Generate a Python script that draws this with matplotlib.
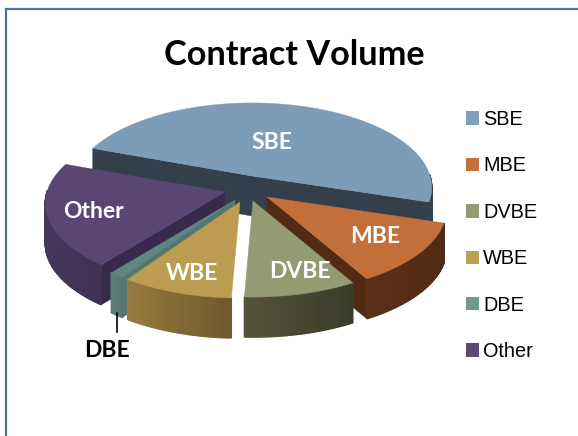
import numpy as np
import matplotlib
matplotlib.use("Agg")
import matplotlib.pyplot as plt
from matplotlib.patches import Patch, Polygon, Rectangle
from matplotlib.colors import to_rgb

# --- Data (share of contract volume) ---
CATEGORIES = ["SBE", "MBE", "DVBE", "WBE", "DBE", "Other"]
VALUES = [49.2, 11.9, 8.9, 8.8, 1.2, 20.0]

# --- Colours ---
LEGEND_COLORS = ["#7f9fbb", "#c4703c", "#959a72", "#bd9f52", "#6e9a90", "#5d4978"]
TOP_COLORS = ["#7d9cb7", "#c26f3a", "#949a72", "#bc9c50", "#5f8680", "#5a4673"]
WALL_LIGHT = ["#33404c", "#5a3018", "#555339", "#977c3f", "#5b7f78", "#4a3c66"]
WALL_DARK = ["#33404c", "#4e2915", "#393b29", "#6f592d", "#567670", "#3f3254"]
RADIAL_COLORS = ["#33404c", "#522b15", "#393b29", "#a8893f", "#567670", "#382a4c"]

# --- Layout (pixels, the axes run in image coordinates) ---
START_ANGLE = 200.4
RADIUS = 178
SQUASH = 83
PERSPECTIVE = 0.136
DEPTH = 40
APEX_X = [252, 267, 253, 240, 235, 225]
APEX_Y = [176, 197, 201, 202, 200, 192]
# back slices first so the front ones paint over them
DRAW_ORDER = [0, 5, 1, 4, 3, 2]
LABEL_POS = {"SBE": (272, 142), "MBE": (375, 236), "DVBE": (300, 271),
             "WBE": (192, 273), "Other": (94, 211)}


def project(apex, angle):
    """Rim point of a slice on screen, angle in degrees, clockwise on screen."""
    t = np.radians(angle)
    u, v = np.cos(t), np.sin(t)
    s = 1 / (1 - PERSPECTIVE * v)
    return np.column_stack([apex[0] + RADIUS * u * s, apex[1] + SQUASH * v * s])


def mix(c1, c2, t):
    a, b = np.array(to_rgb(c1)), np.array(to_rgb(c2))
    return tuple(a * (1 - t) + b * t)


def draw_slice(ax, i, a0, a1):
    apex = np.array([APEX_X[i], APEX_Y[i]], dtype=float)
    angles = np.linspace(a0, a1, max(int(a1 - a0) * 2, 6))
    rim = project(apex, angles)
    down = np.array([0, DEPTH])

    # radial walls, only the ones that face the viewer
    for edge, normal in ((rim[0], a0 - 90), (rim[-1], a1 + 90)):
        if np.sin(np.radians(normal)) > 0.1:
            wall = [apex, edge, edge + down, apex + down]
            ax.add_patch(Polygon(wall, closed=True, fc=RADIAL_COLORS[i],
                                 ec=RADIAL_COLORS[i], lw=0.3))

    # outer wall in small quads so the shade can run along the arc
    for j in range(len(rim) - 1):
        mid = np.radians((angles[j] + angles[j + 1]) / 2)
        if np.sin(mid) < -0.02:
            continue
        col = mix(WALL_DARK[i], WALL_LIGHT[i], j / max(len(rim) - 2, 1))
        quad = [rim[j], rim[j + 1], rim[j + 1] + down, rim[j] + down]
        ax.add_patch(Polygon(quad, closed=True, fc=col, ec=col, lw=1.0))

    top = np.vstack([apex, rim])
    ax.add_patch(Polygon(top, closed=True, fc=TOP_COLORS[i], ec=TOP_COLORS[i], lw=0.3))


fig = plt.figure(figsize=(5.78, 4.36), dpi=100)
ax = fig.add_axes([0, 0, 1, 1])
ax.set_xlim(0, 578)
ax.set_ylim(436, 0)
ax.axis("off")

# chart frame, runs off the right and bottom of the image
ax.add_patch(Rectangle((5.5, 9.5), 600, 460, fc="white", ec="#4f7398", lw=1.6))

shares = np.array(VALUES) / sum(VALUES) * 360
edges = START_ANGLE + np.concatenate([[0], np.cumsum(shares)])
for i in DRAW_ORDER:
    draw_slice(ax, i, edges[i], edges[i + 1])

ax.text(294, 55, "Contract Volume", ha="center", va="center",
        family="Lato", weight="bold", fontsize=24.7, color="black")

for name, (x, y) in LABEL_POS.items():
    ax.text(x, y, name, ha="center", va="center", family="Lato",
            weight="bold", fontsize=16.5, color="white")

# DBE is too thin for an inside label
ax.plot([117, 117], [313, 332], color="black", lw=1.2)
ax.text(107, 350, "DBE", ha="center", va="center", family="Lato",
        weight="bold", fontsize=16.5, color="black")

handles = [Patch(fc=c, ec="none", label=n) for c, n in zip(LEGEND_COLORS, CATEGORIES)]
ax.legend(handles=handles, loc="upper left", bbox_to_anchor=(466 / 578, 1 - 110 / 436),
          frameon=False, prop={"family": "Liberation Sans", "size": 14.3},
          handlelength=0.66, handleheight=0.66, handletextpad=0.2,
          labelspacing=1.38, borderpad=0, borderaxespad=0)

fig.savefig("out.png", dpi=100)
